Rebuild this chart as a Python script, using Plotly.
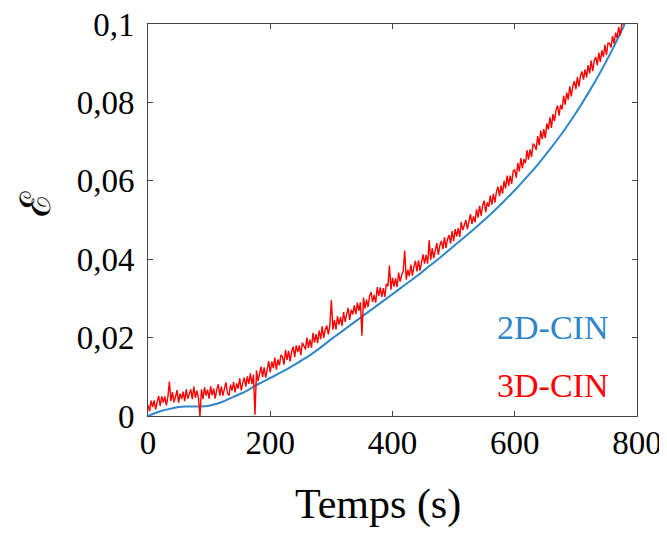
import plotly.graph_objects as go

# ---- data ----
t_blue = [0, 20, 40, 60, 80, 100, 120, 140, 160, 180, 200, 220, 240, 260, 280, 300,
          320, 340, 360, 380, 400, 420, 440, 460, 480, 500, 520, 540, 560, 580, 600,
          620, 640, 660, 680, 700, 720, 740, 760, 780]
eps_2d = [0.0000, 0.0012, 0.0020, 0.0024, 0.0024, 0.0026, 0.0035, 0.0049, 0.0063, 0.0081,
          0.0097, 0.0113, 0.0131, 0.0150, 0.0172, 0.0196, 0.0219, 0.0242, 0.0265, 0.0288,
          0.0311, 0.0334, 0.0357, 0.0382, 0.0407, 0.0433, 0.0459, 0.0486, 0.0514, 0.0544,
          0.0576, 0.0610, 0.0646, 0.0685, 0.0727, 0.0773, 0.0823, 0.0877, 0.0936, 0.1000]

# 3D-CIN sampled every 2.5 s from 0 to 780 s
t_red = [i * 2.5 for i in range(313)]
eps_3d = [
    0.0028, 0.0012, 0.0039, 0.0023, 0.0040, 0.0017, 0.0036, 0.0051,
    0.0026, 0.0050, 0.0034, 0.0050, 0.0027, 0.0048, 0.0088, 0.0038,
    0.0061, 0.0035, 0.0049, 0.0066, 0.0034, 0.0057, 0.0043, 0.0062,
    0.0038, 0.0068, 0.0044, 0.0056, 0.0068, 0.0043, 0.0075, 0.0046,
    0.0065, 0.0046, 0.0000, 0.0068, 0.0043, 0.0073, 0.0052, 0.0067,
    0.0044, 0.0076, 0.0053, 0.0070, 0.0044, 0.0068, 0.0081, 0.0052,
    0.0075, 0.0052, 0.0069, 0.0086, 0.0058, 0.0052, 0.0080, 0.0065,
    0.0087, 0.0060, 0.0083, 0.0070, 0.0096, 0.0065, 0.0084, 0.0098,
    0.0075, 0.0101, 0.0082, 0.0109, 0.0081, 0.0105, 0.0003, 0.0116,
    0.0089, 0.0112, 0.0126, 0.0100, 0.0124, 0.0098, 0.0123, 0.0140,
    0.0111, 0.0139, 0.0122, 0.0149, 0.0118, 0.0144, 0.0129, 0.0156,
    0.0151, 0.0131, 0.0169, 0.0143, 0.0166, 0.0139, 0.0164, 0.0177,
    0.0150, 0.0180, 0.0163, 0.0180, 0.0155, 0.0187, 0.0179, 0.0170,
    0.0200, 0.0174, 0.0195, 0.0174, 0.0212, 0.0187, 0.0209, 0.0186,
    0.0218, 0.0196, 0.0229, 0.0199, 0.0220, 0.0231, 0.0208, 0.0231,
    0.0296, 0.0220, 0.0245, 0.0221, 0.0255, 0.0233, 0.0252, 0.0230,
    0.0265, 0.0240, 0.0259, 0.0276, 0.0245, 0.0271, 0.0259, 0.0282,
    0.0260, 0.0289, 0.0268, 0.0290, 0.0205, 0.0302, 0.0274, 0.0297,
    0.0278, 0.0306, 0.0316, 0.0291, 0.0309, 0.0289, 0.0329, 0.0306,
    0.0328, 0.0304, 0.0326, 0.0304, 0.0337, 0.0331, 0.0384, 0.0322,
    0.0353, 0.0330, 0.0351, 0.0329, 0.0366, 0.0343, 0.0360, 0.0370,
    0.0422, 0.0348, 0.0373, 0.0357, 0.0386, 0.0358, 0.0380, 0.0396,
    0.0369, 0.0397, 0.0371, 0.0397, 0.0412, 0.0389, 0.0411, 0.0389,
    0.0448, 0.0398, 0.0428, 0.0403, 0.0427, 0.0441, 0.0411, 0.0435,
    0.0447, 0.0426, 0.0456, 0.0429, 0.0451, 0.0462, 0.0440, 0.0472,
    0.0446, 0.0477, 0.0458, 0.0479, 0.0457, 0.0495, 0.0474, 0.0491,
    0.0500, 0.0477, 0.0501, 0.0515, 0.0490, 0.0509, 0.0494, 0.0527,
    0.0506, 0.0536, 0.0511, 0.0537, 0.0549, 0.0520, 0.0545, 0.0534,
    0.0562, 0.0539, 0.0567, 0.0544, 0.0572, 0.0585, 0.0561, 0.0588,
    0.0567, 0.0600, 0.0581, 0.0613, 0.0587, 0.0613, 0.0592, 0.0626,
    0.0628, 0.0608, 0.0645, 0.0624, 0.0658, 0.0632, 0.0655, 0.0645,
    0.0678, 0.0654, 0.0680, 0.0661, 0.0695, 0.0690, 0.0679, 0.0714,
    0.0691, 0.0728, 0.0706, 0.0732, 0.0709, 0.0746, 0.0731, 0.0762,
    0.0735, 0.0770, 0.0752, 0.0780, 0.0792, 0.0766, 0.0794, 0.0782,
    0.0817, 0.0794, 0.0825, 0.0807, 0.0841, 0.0815, 0.0842, 0.0854,
    0.0834, 0.0865, 0.0840, 0.0868, 0.0879, 0.0858, 0.0884, 0.0864,
    0.0895, 0.0874, 0.0907, 0.0880, 0.0906, 0.0916, 0.0895, 0.0927,
    0.0903, 0.0933, 0.0916, 0.0947, 0.0921, 0.0951, 0.0951, 0.0940,
    0.0969, 0.0950, 0.0978, 0.0964, 0.0992, 0.0971, 0.0998, 0.1000,
    0.1003,
]

x_ticks = [0, 200, 400, 600, 800]
y_ticks = [0, 0.02, 0.04, 0.06, 0.08, 0.1]
y_tick_labels = ["0", "0,02", "0,04", "0,06", "0,08", "0,1"]
series_names = ["2D-CIN", "3D-CIN"]
x_title = "Temps (s)"
y_title = "ℰ"

BLUE = "#2f86c8"
RED = "#ff0000"
FONT = "Liberation Serif"

fig = go.Figure()
fig.add_trace(go.Scatter(x=t_blue, y=eps_2d, mode="lines", name=series_names[0],
                         line=dict(color=BLUE, width=2, shape="spline")))
fig.add_trace(go.Scatter(x=t_red, y=eps_3d, mode="lines", name=series_names[1],
                         line=dict(color=RED, width=1.4)))

# in-plot series labels
fig.add_annotation(x=0.945, y=0.2245, xref="paper", yref="paper", text=series_names[0],
                   showarrow=False, xanchor="right", yanchor="middle",
                   font=dict(family=FONT, size=34, color=BLUE))
fig.add_annotation(x=0.945, y=0.079, xref="paper", yref="paper", text=series_names[1],
                   showarrow=False, xanchor="right", yanchor="middle",
                   font=dict(family=FONT, size=34, color=RED))

# axis titles
fig.add_annotation(x=0.470, y=-0.227, xref="paper", yref="paper", text=x_title,
                   showarrow=False, xanchor="center", yanchor="middle",
                   font=dict(family=FONT, size=42, color="black"))
fig.add_annotation(x=-0.229, y=0.54, xref="paper", yref="paper", text=y_title,
                   showarrow=False, xanchor="center", yanchor="middle", textangle=-90,
                   font=dict(family=FONT, size=42, color="black"))

axis_common = dict(showline=True, linecolor="#444", linewidth=1, mirror="allticks",
                   ticks="inside", ticklen=5, tickcolor="#444", showgrid=False,
                   zeroline=False, automargin=False, ticklabeloverflow="allow",
                   tickfont=dict(family=FONT, size=33, color="black"))

fig.update_xaxes(range=[0, 800], tickvals=x_ticks, ticktext=[str(v) for v in x_ticks],
                 ticklabelstandoff=-3, **axis_common)
fig.update_yaxes(range=[0, 0.1], tickvals=y_ticks, ticktext=y_tick_labels,
                 ticklabelstandoff=6, **axis_common)

# page body adds an 8 px offset, so the figure is 8 px smaller than the window
fig.update_layout(width=659, height=525, showlegend=False,
                  margin=dict(l=140, r=30, t=16, b=117),
                  plot_bgcolor="white", paper_bgcolor="white")

fig.write_html("out.html")
